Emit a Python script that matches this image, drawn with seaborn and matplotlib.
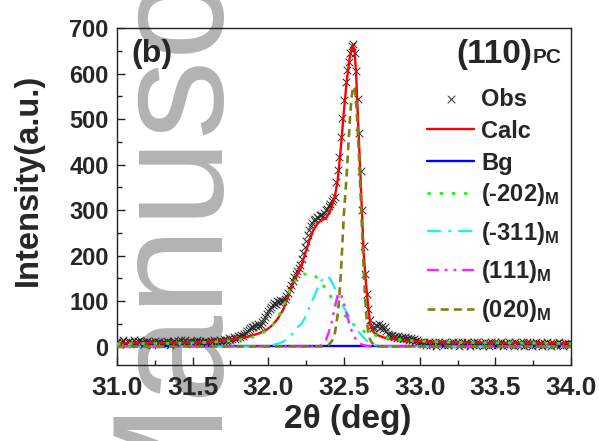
import numpy as np
import matplotlib
matplotlib.use("Agg")
import matplotlib.pyplot as plt
from matplotlib.ticker import MultipleLocator, FormatStrFormatter
import seaborn as sns

# ---- measured XRD scan (110)pc region, 31.00-34.00 deg, 0.01 deg step ----
scan_start = 31.0
scan_step = 0.01
obs_counts = [
    9, 12, 5, 10, 14, 8, 6, 11, 13, 7,
    10, 15, 9, 6, 12, 14, 8, 11, 5, 9,
    13, 7, 10, 4, 8, 12, 6, 9, 11, 5,
    8, 10, 6, 12, 9, 4, 7, 11, 13, 8,
    12, 9, 14, 7, 10, 15, 11, 8, 13, 10,
    6, 11, 9, 14, 8, 12, 7, 10, 13, 9,
    11, 8, 12, 10, 14, 9, 13, 11, 15, 10,
    13, 16, 12, 15, 18, 14, 17, 20, 16, 19,
    22, 20, 25, 23, 28, 30, 33, 37, 40, 43,
    42, 47, 45, 50, 44, 48, 53, 58, 64, 71,
    77, 82, 86, 91, 95, 93, 99, 97, 103, 101,
    100, 104, 110, 118, 126, 136, 144, 152, 160, 166,
    172, 180, 192, 205, 218, 232, 245, 256, 265, 271,
    277, 280, 285, 283, 288, 290, 287, 294, 299, 303,
    309, 314, 319, 324, 329, 362, 388, 417, 461, 502,
    541, 581, 607, 625, 645, 660, 664, 645, 605, 545,
    470, 385, 300, 220, 160, 115, 82, 58, 44, 40,
    43, 47, 45, 50, 41, 46, 38, 42, 33, 28,
    25, 22, 26, 20, 23, 19, 24, 18, 21, 17,
    20, 16, 19, 15, 18, 14, 17, 12, 15, 11,
    9, 11, 5, 9, 3, 8, 10, 4, 7, 6,
    9, 2, 7, 11, 5, 8, 3, 10, 6, 4,
    8, 5, 10, 3, 7, 9, 1, 6, 11, 4,
    7, 10, 5, 2, 8, 6, 11, 4, 9, 3,
    6, 8, 2, 10, 5, 7, 1, 9, 4, 6,
    10, 3, 7, 5, 9, 2, 6, 8, 4, 11,
    5, 7, 1, 9, 6, 3, 8, 4, 10, 2,
    6, 9, 4, 7, 1, 8, 5, 10, 3, 6,
    8, 2, 7, 5, 9, 4, 6, 1, 8, 5,
    3, 7, 10, 4, 6, 2, 8, 5, 7, 4,
    6,
]

# ---- calculated profile ----
calc_x = [31.00, 31.20, 31.40, 31.60, 31.70, 31.77, 31.83, 31.88, 31.94, 31.99,
          32.03, 32.06, 32.10, 32.14, 32.17, 32.21, 32.24, 32.27, 32.30, 32.33,
          32.35, 32.38, 32.40, 32.42, 32.44, 32.46, 32.48, 32.50, 32.52, 32.54,
          32.557, 32.57, 32.58, 32.595, 32.61, 32.62, 32.63, 32.645, 32.66, 32.67,
          32.68, 32.70, 32.73, 32.76, 32.80, 32.90, 33.00, 33.20, 33.50, 34.00]
calc_y = [7.5, 7.5, 8, 10, 13, 16, 19, 23, 29, 37,
          48, 60, 82, 118, 145, 170, 200, 232, 258, 272,
          277, 282, 292, 308, 330, 370, 440, 520, 590, 640,
          662, 650, 600, 480, 365, 285, 205, 140, 88, 58,
          40, 30, 24, 20, 17, 13, 11, 9, 8, 7]

# ---- background ----
bg_x = [31.0, 34.0]
bg_y = [1.5, 1.5]

# ---- monoclinic components ----
m202_x = [31.00, 31.20, 31.40, 31.60, 31.70, 31.80, 31.85, 31.90, 31.95, 32.00,
          32.03, 32.06, 32.09, 32.12, 32.15, 32.18, 32.21, 32.24, 32.27, 32.30,
          32.33, 32.36, 32.39, 32.42, 32.45, 32.48, 32.51, 32.54, 32.57, 32.60,
          32.64, 32.70, 32.80, 32.90, 33.00, 33.20, 33.50, 33.80, 34.00]
m202_y = [6, 6.5, 7, 9, 11, 14, 17, 21, 27, 38,
          48, 62, 80, 105, 128, 145, 155, 159, 160, 158,
          148, 136, 121, 106, 93, 80, 66, 55, 46, 39,
          32, 25, 18, 14, 12, 9.5, 8, 7, 6.5]

m311_x = [31.00, 31.95, 32.00, 32.02, 32.04, 32.06, 32.08, 32.10, 32.12, 32.14,
          32.16, 32.18, 32.20, 32.22, 32.24, 32.26, 32.28, 32.30, 32.32, 32.34,
          32.36, 32.38, 32.40, 32.42, 32.44, 32.46, 32.48, 32.50, 32.52, 32.54,
          32.56, 32.58, 32.60, 32.62, 32.64, 32.66, 32.68, 32.70, 32.72, 32.74,
          32.76, 34.00]
m311_y = [0, 0, 2, 3, 4, 6, 8, 11, 15, 21,
          28, 36, 44, 50, 62, 77, 94, 108, 124, 138,
          149, 155, 152, 142, 128, 112, 97, 85, 74, 62,
          50, 40, 31, 23, 16, 10, 6, 4, 2, 1,
          0, 0]

m111_x = [31.00, 32.30, 32.34, 32.36, 32.38, 32.40, 32.42, 32.44, 32.46, 32.47,
          32.48, 32.50, 32.52, 32.54, 32.56, 32.58, 32.60, 32.62, 32.64, 32.68,
          34.00]
m111_y = [0, 0, 1, 6, 14, 32, 55, 88, 115, 118,
          114, 95, 68, 44, 27, 15, 8, 4, 2, 0,
          0]

m020_x = [31.00, 32.38, 32.40, 32.42, 32.44, 32.46, 32.47, 32.48, 32.49, 32.50,
          32.51, 32.52, 32.53, 32.54, 32.55, 32.56, 32.565, 32.57, 32.58, 32.59,
          32.60, 32.61, 32.62, 32.63, 32.64, 32.65, 32.66, 32.67, 32.68, 32.70,
          32.72, 32.75, 34.00]
m020_y = [0, 0, 4, 12, 30, 74, 115, 165, 230, 295,
          340, 390, 450, 505, 548, 570, 572, 568, 540, 480,
          410, 330, 250, 170, 105, 60, 32, 18, 10, 4,
          1, 0, 0]

two_theta = scan_start + scan_step * np.arange(len(obs_counts))

sns.set_theme(style="ticks")
plt.rcParams["font.family"] = ["Liberation Sans", "DejaVu Sans"]
plt.rcParams.update({
    "font.weight": "bold",
    "axes.labelweight": "bold",
    "mathtext.fontset": "custom",
    "mathtext.rm": "Liberation Sans:bold",
    "mathtext.bf": "Liberation Sans:bold",
    "mathtext.it": "Liberation Sans:bold",
    "mathtext.default": "bf",
    "axes.edgecolor": "#222222",
    "axes.linewidth": 1.0,
})

fig = plt.figure(figsize=(5.99, 4.41), dpi=100)
fig.patch.set_facecolor("white")
ax = fig.add_axes([0.1953, 0.1730, 0.758, 0.7635])
ax.set_facecolor("none")

# grey background stamp
fig.text(210 / 599, 1 - 522 / 441, "Manuscript", rotation=90,
         rotation_mode="anchor", ha="left", va="baseline",
         fontsize=114, fontweight="normal", color="#b3b3b3", zorder=-5)

sns.scatterplot(x=two_theta, y=obs_counts, marker="x", color="#2a2a2a",
                s=30, linewidth=0.7, label="Obs", ax=ax, zorder=2)
sns.lineplot(x=calc_x, y=calc_y, color="#ff0000", linewidth=1.7,
             label="Calc", ax=ax, zorder=3)
sns.lineplot(x=bg_x, y=bg_y, color="#0000ff", linewidth=1.7,
             label="Bg", ax=ax, zorder=3)
sns.lineplot(x=m202_x, y=m202_y, color="#22ee22", linewidth=2.0,
             linestyle=(0, (1.2, 3.2)), label=r"(-202)$_{M}$", ax=ax, zorder=4)
sns.lineplot(x=m311_x, y=m311_y, color="#22eeee", linewidth=1.7,
             linestyle=(0, (6, 3, 1.2, 3)), label=r"(-311)$_{M}$", ax=ax, zorder=4)
sns.lineplot(x=m111_x, y=m111_y, color="#ff22ff", linewidth=1.7,
             linestyle=(0, (5, 2.5, 1.2, 2.5, 1.2, 2.5)), label=r"(111)$_{M}$",
             ax=ax, zorder=4)
sns.lineplot(x=m020_x, y=m020_y, color="#808010", linewidth=1.9,
             linestyle=(0, (3, 2)), label=r"(020)$_{M}$", ax=ax, zorder=5)

ax.set_xlim(31.0, 34.0)
ax.set_ylim(-40, 700)
ax.xaxis.set_major_locator(MultipleLocator(0.5))
ax.xaxis.set_minor_locator(MultipleLocator(0.25))
ax.xaxis.set_major_formatter(FormatStrFormatter("%.1f"))
ax.yaxis.set_major_locator(MultipleLocator(100))
ax.yaxis.set_minor_locator(MultipleLocator(50))
ax.tick_params(which="both", direction="in", top=False, right=False,
               width=1.0, color="#222222")
ax.tick_params(which="major", length=6)
ax.tick_params(which="minor", length=3.5)
ax.tick_params(axis="x", pad=8, labelsize=19)
ax.tick_params(axis="y", pad=6, labelsize=17)
for lab in ax.get_xticklabels() + ax.get_yticklabels():
    lab.set_fontweight("bold")

ax.set_xlabel("2\u03b8 (deg)", fontsize=24, fontweight="bold")
ax.set_ylabel("Intensity(a.u.)", fontsize=23.5, fontweight="bold")
ax.xaxis.set_label_coords(0.509, -0.117)
ax.yaxis.set_label_coords(-0.161, 0.549)

ax.text(0.031, 0.968, "(b)", transform=ax.transAxes, ha="left", va="top",
        fontsize=23, fontweight="bold")
ax.text(0.914, 0.896, "(110)", transform=ax.transAxes, ha="right",
        va="baseline", fontsize=24, fontweight="bold")
ax.text(0.916, 0.896, "PC", transform=ax.transAxes, ha="left",
        va="baseline", fontsize=15, fontweight="bold")

# legend: plain entries, then the monoclinic reflections with subscripts
handles, labels = ax.get_legend_handles_labels()
leg_style = dict(loc="upper left", frameon=False, fontsize=17, borderpad=0,
                 borderaxespad=0, handlelength=2.0, handletextpad=0.3)
leg1 = ax.legend(handles[:3], labels[:3], bbox_to_anchor=(0.683, 0.823),
                 labelspacing=0.38, **leg_style)
for t in leg1.get_texts():
    t.set_fontweight("bold")
ax.add_artist(leg1)
leg2 = ax.legend(handles[3:], labels[3:], bbox_to_anchor=(0.683, 0.546),
                 labelspacing=0.5, **leg_style)
for t in leg2.get_texts():
    t.set_fontweight("bold")

fig.savefig("out.png", dpi=100)
